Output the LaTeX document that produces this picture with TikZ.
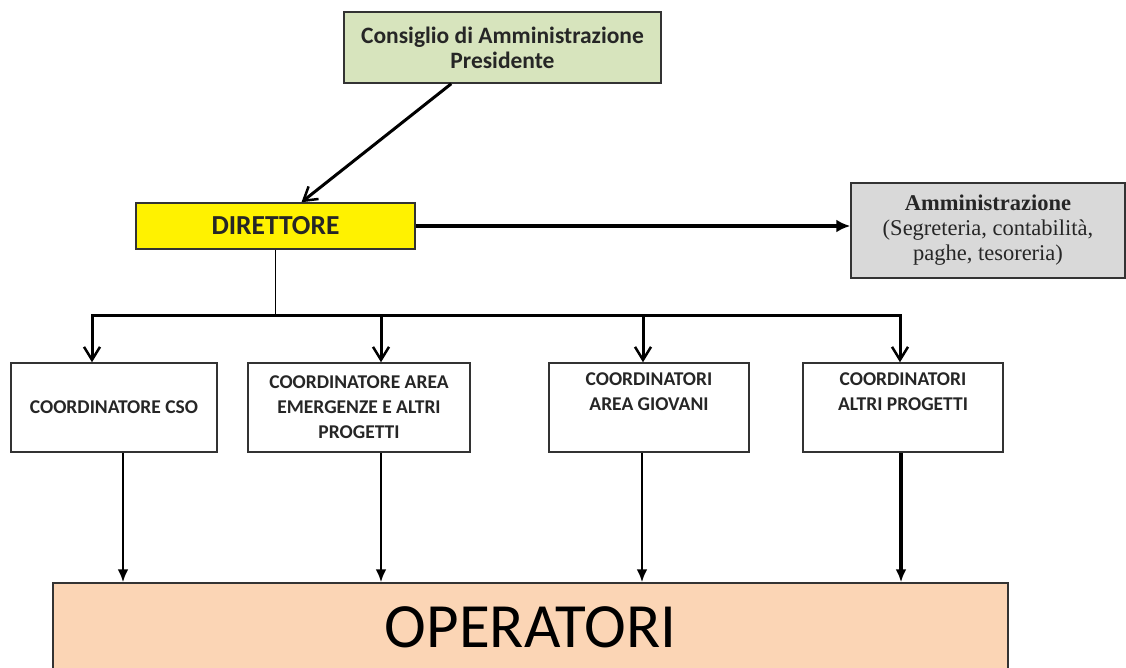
\documentclass[tikz,border=0pt]{standalone}
\usepackage{fontspec}
\setmainfont{Carlito}
\newfontfamily\timesfont{Liberation Serif}
\usetikzlibrary{arrows.meta}

\definecolor{cdagreen}{HTML}{D7E4BD}
\definecolor{ammgray}{HTML}{D9D9D9}
\definecolor{operpeach}{HTML}{FBD5B5}

\begin{document}
\begin{tikzpicture}
[x=1pt,y=-1pt,
cda/.style ={rectangle, draw=black!80, line width=1.5pt, fill=cdagreen,
minimum width=317pt, minimum height=71pt, align=center,
font=\fontsize{23.5}{25}\selectfont\bfseries, text=black!85},
boss/.style ={rectangle, draw=black!80, line width=1.5pt, fill=yellow,
minimum width=279pt, minimum height=46pt,
font=\fontsize{27.5}{30}\selectfont\bfseries, text=black!85},
office/.style ={rectangle, draw=black!80, line width=1.5pt, fill=ammgray,
minimum width=274pt, minimum height=95pt, align=center,
font=\timesfont\fontsize{22.5}{25}\selectfont, text=black!85},
coord/.style ={rectangle, draw=black!80, line width=1.5pt, fill=white,
minimum height=89pt, align=center,
font=\fontsize{19.5}{25}\selectfont\bfseries, text=black!85},
staff/.style ={rectangle, draw=black!80, line width=1.5pt, fill=operpeach,
minimum width=955pt, minimum height=88pt,
font=\fontsize{63}{70}\selectfont, text=black},
barb/.style ={draw, line width=3pt, -{Straight Barb[length=13pt,width=16pt,line width=2.5pt]}},
feed/.style ={draw, line width=2.5pt, -{Latex[length=13pt,width=11pt]}}]
\useasboundingbox (0,0) rectangle (1126,668);

% top
\node [cda]  (cda)  at (502.5,47.5) {Consiglio di Amministrazione\\Presidente};
\node [boss] (dir)  at (275.5,226)  {DIRETTORE};
\node [office] (amm) at (988,230.5) {\textbf{Amministrazione}\\(Segreteria, contabilità,\\paghe, tesoreria)};
% coordinators
\node [coord, minimum width=206pt] (cso)  at (114,407.5) {COORDINATORE CSO};
\node [coord, minimum width=222pt] (emer) at (359,407.5) {COORDINATORE AREA\\EMERGENZE E ALTRI\\PROGETTI};
\node [coord, minimum width=200pt] (giov) at (649,407.5) {COORDINATORI\\AREA GIOVANI\\\strut};
\node [coord, minimum width=200pt] (altri) at (903,407.5) {COORDINATORI\\ALTRI PROGETTI\\\strut};
% bottom
\node [staff] (oper) at (530.5,627) {OPERATORI};

\coordinate (b1) at (92,315);
\coordinate (b2) at (381,315);
\coordinate (b3) at (643,315);
\coordinate (b4) at (900,315);

\path [barb] (cda.south west) ++(108pt,0) coordinate (cdaout) (cdaout) -- ([xshift=26pt]dir.north);
\path [draw, line width=4pt, -{Latex[length=14pt,width=13pt]}] (dir.east) -- (dir.east -| amm.west);
\draw [line width=1pt] (dir.south) -- (dir.south |- b1);
\draw [line width=3pt, line cap=rect] (b1) -- (b4);
\begin{scope}[every path/.style=barb]
\path (b1) -- (b1 |- cso.north);
\path (b2) -- (b2 |- emer.north);
\path (b3) -- (b3 |- giov.north);
\path (b4) -- (b4 |- altri.north);
\end{scope}
\begin{scope}[every path/.style=feed]
\path ([xshift=9pt]cso.south) -- ([xshift=9pt]cso.south |- oper.north);
\path ([xshift=22pt]emer.south) -- ([xshift=22pt]emer.south |- oper.north);
\path ([xshift=-7pt]giov.south) -- ([xshift=-7pt]giov.south |- oper.north);
\path [line width=3.5pt] ([xshift=-2pt]altri.south) -- ([xshift=-2pt]altri.south |- oper.north);
\end{scope}
\end{tikzpicture}
\end{document}
